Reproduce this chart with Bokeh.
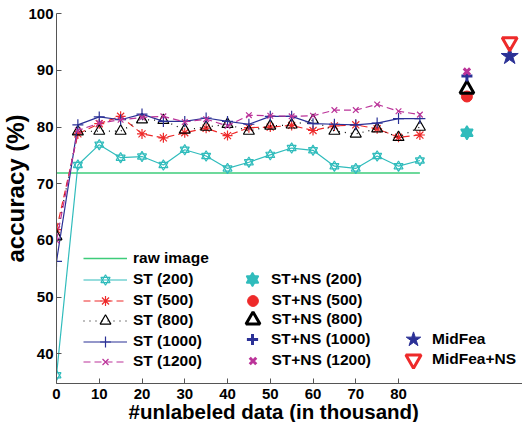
from bokeh.plotting import figure
from bokeh.models import Range1d, FixedTicker, Legend, LegendItem, Title
from bokeh.embed import file_html
from bokeh.resources import INLINE

# ---------------- data ----------------
unlabeled = [0, 5, 10, 15, 20, 25, 30, 35, 40, 45, 50, 55, 60, 65, 70, 75, 80, 85]
raw_image = 71.9
st200 = [36.2, 73.3, 76.9, 74.6, 74.8, 73.3, 76.0, 74.9, 72.7, 73.8, 75.1, 76.3, 75.9, 73.1, 72.7, 74.9, 73.1, 74.1]
st500 = [61.9, 78.8, 80.6, 81.9, 78.8, 78.1, 79.0, 79.8, 78.5, 79.9, 80.0, 80.3, 79.4, 80.2, 80.4, 79.7, 78.2, 78.6]
st800 = [60.7, 79.2, 79.3, 79.3, 81.3, 81.2, 79.5, 80.0, 80.5, 79.3, 80.2, 80.4, 81.2, 79.3, 78.8, 79.7, 78.2, 80.0]
st1000 = [56.3, 80.4, 81.8, 81.3, 82.3, 81.0, 81.0, 81.6, 81.0, 80.5, 81.9, 81.9, 80.6, 80.5, 80.4, 80.7, 81.5, 81.5]
st1200 = [60.0, 79.4, 80.7, 81.3, 81.7, 81.9, 80.9, 81.4, 80.2, 82.1, 82.0, 81.9, 82.0, 83.0, 83.0, 84.0, 82.8, 82.2]

stns_x = 96
stns200 = 79.0
stns500 = 85.4
stns800 = 86.7
stns1000 = 89.0
stns1200 = 89.8

midfea_x = 106
midfea = 92.5
midfea_ns = 95.0

x_ticks = [0, 10, 20, 30, 40, 50, 60, 70, 80]
y_ticks = [40, 50, 60, 70, 80, 90, 100]

# ---------------- style ----------------
FONT = "Liberation Sans"
CYAN = "#30bcbc"
RED = "#ee2a2a"
BLUE = "#2b3196"
MAG = "#bb3399"
GREEN = "#3dcc7a"
BLACK = "#000000"

FL, FT, FB = 56, 13, 383  # frame left / top / bottom (canvas px)
W, H = 522, 422

p = figure(width=W, height=H, output_backend="svg", toolbar_location=None,
           x_range=Range1d(0, 109.0), y_range=Range1d(34.74, 100.05),
           min_border_left=FL, min_border_right=0, min_border_top=FT, min_border_bottom=H - FB)
p.outline_line_color = None
p.grid.visible = False
p.background_fill_color = "white"

for ax in (p.xaxis[0], p.yaxis[0]):
    ax.axis_line_color = "#555555"
    ax.major_tick_line_color = "#555555"
    ax.major_tick_in = 5
    ax.major_tick_out = 0
    ax.minor_tick_line_color = None
    ax.major_label_text_font = FONT
    ax.major_label_text_font_style = "bold"
    ax.major_label_text_font_size = "15px"
    ax.major_label_text_color = "black"
p.xaxis.ticker = FixedTicker(ticks=x_ticks)
p.yaxis.ticker = FixedTicker(ticks=y_ticks)
p.xaxis.major_label_standoff = 5
p.yaxis.major_label_standoff = 3

# raw image
r_raw = p.line([unlabeled[0], unlabeled[-1]], [raw_image, raw_image], line_color=GREEN, line_width=1.5)

# ST (200) - hexagram via two triangles
l200 = p.line(unlabeled, st200, line_color=CYAN, line_width=1.2)
m200a = p.scatter(unlabeled, st200, marker="triangle", size=9, line_color=CYAN, fill_alpha=0, line_width=1.2)
m200b = p.scatter(unlabeled, st200, marker="inverted_triangle", size=9, line_color=CYAN, fill_alpha=0, line_width=1.2)

# ST (500)
l500 = p.line(unlabeled, st500, line_color=RED, line_width=1.2, line_dash="7 4")
m500 = p.scatter(unlabeled, st500, marker="asterisk", size=10, line_color=RED, line_width=1.2)

# ST (800)
l800 = p.line(unlabeled, st800, line_color=BLACK, line_width=1.2, line_dash="1 5")
m800 = p.scatter(unlabeled, st800, marker="triangle", size=11, line_color=BLACK, fill_alpha=0, line_width=1.2)

# ST (1000)
l1000 = p.line(unlabeled, st1000, line_color=BLUE, line_width=1.2)
m1000 = p.scatter(unlabeled, st1000, marker="cross", size=11, line_color=BLUE, line_width=1.2)

# ST (1200)
l1200 = p.line(unlabeled, st1200, line_color=MAG, line_width=1.2, line_dash="7 4")
m1200 = p.scatter(unlabeled, st1200, marker="x", size=8, line_color=MAG, line_width=1.2)

# ST+NS
n200a = p.scatter([stns_x], [stns200], marker="triangle", size=12, line_color=CYAN, fill_color=CYAN, line_width=1.5)
n200b = p.scatter([stns_x], [stns200], marker="inverted_triangle", size=12, line_color=CYAN, fill_color=CYAN, line_width=1.5)
n500 = p.scatter([stns_x], [stns500], marker="circle", size=11, line_color=RED, fill_color=RED, line_width=1)
n800 = p.scatter([stns_x], [stns800], marker="triangle", size=14, line_color=BLACK, fill_alpha=0, line_width=3)
n1000 = p.scatter([stns_x], [stns1000], marker="cross", size=11, line_color=BLUE, line_width=3)
n1200 = p.scatter([stns_x], [stns1200], marker="x", size=9, line_color=MAG, line_width=3)

# MidFea
mf = p.scatter([midfea_x], [midfea], marker="star", size=18, line_color=BLUE, fill_color=BLUE, line_width=1)
mfns = p.scatter([midfea_x], [midfea_ns], marker="inverted_triangle", size=15, line_color=RED, fill_alpha=0, line_width=3)

# ---------------- legends (one Legend per row so marker sizes can differ) ----------------
def legend_row(label, renderers, glyph_left, center_y, gw, gh, text_left):
    lg = Legend(items=[LegendItem(label=label, renderers=renderers)],
                location=(glyph_left - FL, FB - (center_y + gh / 2)),
                glyph_width=gw, glyph_height=gh, label_height=gh,
                spacing=0, label_standoff=max(0, int(round(text_left - glyph_left - gw))),
                padding=0, margin=0, border_line_color=None, background_fill_alpha=0,
                label_text_font=FONT, label_text_font_style="bold",
                label_text_font_size="15.5px", label_text_color="black")
    p.add_layout(lg)

# column 1: line + marker samples
legend_row("raw image", [r_raw], 83, 258, 44, 20, 133)
legend_row("ST (200)", [l200, m200a, m200b], 83, 279, 44, 23, 133)
legend_row("ST (500)", [l500, m500], 83, 300, 44, 25, 133)
legend_row("ST (800)", [l800, m800], 83, 320, 44, 27, 133)
legend_row("ST (1000)", [l1000, m1000], 83, 341, 44, 27, 133)
legend_row("ST (1200)", [l1200, m1200], 83, 361, 44, 21, 133)

# column 2: ST+NS markers centred near x=252
for label, rends, cy, g in [("ST+NS (200)", [n200a, n200b], 279, 30),
                            ("ST+NS (500)", [n500], 300, 27),
                            ("ST+NS (800)", [n800], 319, 35),
                            ("ST+NS (1000)", [n1000], 339, 28),
                            ("ST+NS (1200)", [n1200], 360, 23)]:
    legend_row(label, rends, 252 - g / 2, cy, g, g, 271)

# column 3: MidFea
legend_row("MidFea", [mf], 413 - 19, 339, 38, 38, 430)
legend_row("MidFea+NS", [mfns], 413 - 19, 359, 38, 38, 430)

# ---------------- axis titles (side-panel titles) ----------------
p.add_layout(Title(text="accuracy (%)", align="left", offset=121, standoff=-6,
                   text_font=FONT, text_font_style="bold", text_font_size="24px",
                   text_color="black"), "left")
p.add_layout(Title(text="#unlabeled data (in thousand)", align="left", offset=72, standoff=-8,
                   text_font=FONT, text_font_style="bold", text_font_size="20.5px",
                   text_color="black"), "below")

open("out.html", "w").write(file_html(p, INLINE))
